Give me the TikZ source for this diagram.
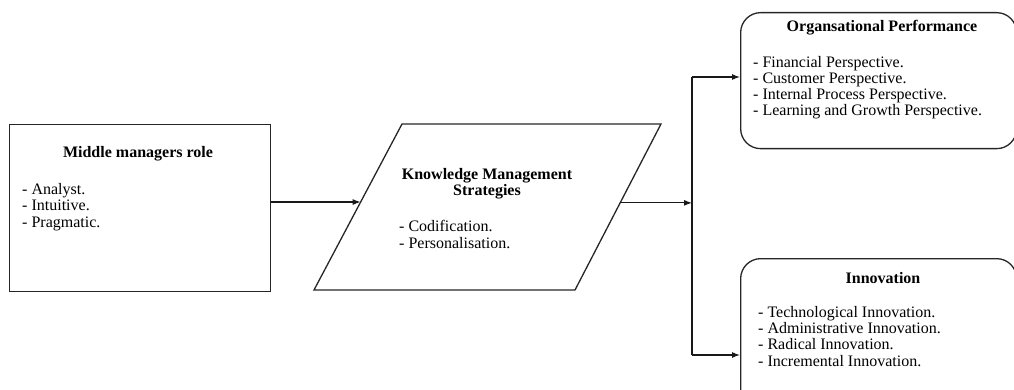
\documentclass[tikz,border=0pt]{standalone}
\usepackage{fontspec}
\setmainfont{Liberation Serif}
\usetikzlibrary{arrows.meta,calc}
\begin{document}
\begin{tikzpicture}[x=1pt,y=-1pt,
  boxline/.style={draw=black!85,line width=1.3pt},
  conn/.style={draw=black!90,line width=1.1pt},
  arr/.style={conn,-{Latex[length=8pt,width=6pt]}},
  ttl/.style={font=\fontsize{16}{16.3}\selectfont\bfseries,inner sep=0pt,anchor=base,align=center},
  lst/.style={font=\fontsize{16}{16.3}\selectfont,inner sep=0pt,anchor=base west,align=left}]
\useasboundingbox (0,0) rectangle (1014,390);
% left box
\node[boxline,minimum width=261pt,minimum height=167pt,inner sep=0pt,anchor=north west] (mm) at (9,124) {};
\node[ttl] (mmt) at (138,158) {Middle managers role};
\node[lst] (mml) at (22,227) {- Analyst.\\- Intuitive.\\- Pragmatic.};
% parallelogram
\coordinate (p1) at (402,124);
\coordinate (p2) at (661,124);
\coordinate (p3) at (575,290);
\coordinate (p4) at (314,290);
\draw[boxline] (p1) -- (p2) -- (p3) -- (p4) -- cycle;
\coordinate (kin) at ($(p4)!0.53!(p1)$);
\coordinate (kout) at ($(p3)!0.525!(p2)$);
\node[ttl] (kmt) at (487,196) {Knowledge Management\\Strategies};
\node[lst] (kml) at (399,248) {- Codification.\\- Personalisation.};
% right boxes
\node[boxline,rounded corners=20pt,minimum width=276pt,minimum height=136pt,inner sep=0pt,anchor=north west] (op) at (740,12) {};
\node[ttl] (opt) at (882,32) {Organsational Performance};
\node[lst] (opl) at (753,116) {- Financial Perspective.\\- Customer Perspective.\\- Internal Process Perspective.\\- Learning and Growth Perspective.};
\node[boxline,rounded corners=20pt,minimum width=276pt,minimum height=150pt,inner sep=0pt,anchor=north west] (in) at (740,258) {};
\node[ttl] (int) at (883,283) {Innovation};
\node[lst] (inl) at (758,366) {- Technological Innovation.\\- Administrative Innovation.\\- Radical Innovation.\\- Incremental Innovation.};
% connectors
\coordinate (jt) at (692,77);
\coordinate (jb) at (692,355);
\draw[arr] (mm.east |- kin) -- (kin);
\draw[arr] (kout) -- (kout -| jt);
\draw[conn] (jt) -- (jb);
\draw[arr] (jt) -- (op.west |- jt);
\draw[arr] (jb) -- (in.west |- jb);
\end{tikzpicture}
\end{document}
